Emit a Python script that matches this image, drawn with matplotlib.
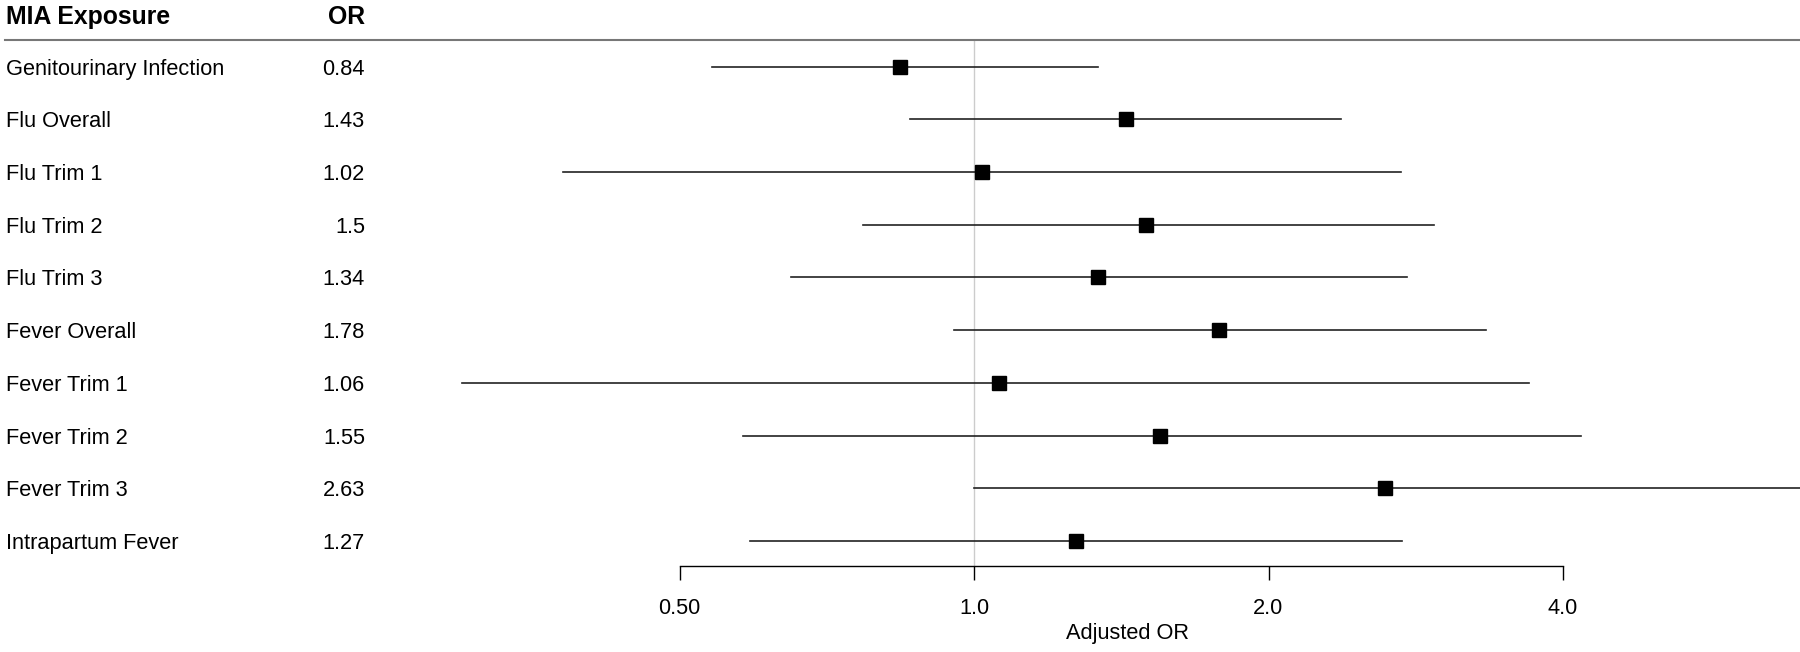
import matplotlib

matplotlib.use("Agg")
import matplotlib.pyplot as plt
from matplotlib.transforms import blended_transform_factory

plt.rcParams["font.family"] = ["Liberation Sans", "DejaVu Sans"]

labels = [
    "Genitourinary Infection",
    "Flu Overall",
    "Flu Trim 1",
    "Flu Trim 2",
    "Flu Trim 3",
    "Fever Overall",
    "Fever Trim 1",
    "Fever Trim 2",
    "Fever Trim 3",
    "Intrapartum Fever",
]
or_text = ["0.84", "1.43", "1.02", "1.5", "1.34", "1.78", "1.06", "1.55", "2.63", "1.27"]
odds_ratio = [0.84, 1.43, 1.02, 1.50, 1.34, 1.78, 1.06, 1.55, 2.63, 1.27]
ci_low = [0.54, 0.86, 0.38, 0.77, 0.65, 0.955, 0.30, 0.58, 1.00, 0.59]
ci_high = [1.34, 2.37, 2.73, 2.95, 2.77, 3.34, 3.69, 4.17, 7.5, 2.74]
ticks = [0.5, 1.0, 2.0, 4.0]
tick_labels = ["0.50", "1.0", "2.0", "4.0"]

W, H = 1800, 652
FS = 15.7
fig = plt.figure(figsize=(W / 100, H / 100), dpi=100)
fig.patch.set_facecolor("white")

# axes: from header rule (y=40px) down to axis line (y=566px)
ax_left = 400 / W
ax = fig.add_axes([ax_left, 1 - 566 / H, 1 - ax_left, (566 - 40) / H])
ax.set_xscale("log", base=2)
x_left = 2 ** ((400 - 974) / 294.5)
x_right = 2 ** ((1800 - 974) / 294.5)
ax.set_xlim(x_left, x_right)
n = len(labels)
row_h = 52.7
ax.set_ylim(9 + (566 - 541) / row_h, -(66.6 - 40) / row_h)

ax.axvline(1.0, color="#cccccc", lw=1.0, zorder=1)

for i in range(n):
    ax.plot([ci_low[i], ci_high[i]], [i, i], color="#222222", lw=1.2, zorder=2)
ax.plot(odds_ratio, range(n), "s", color="black", markersize=10.5, zorder=3)

for side in ["top", "left", "right"]:
    ax.spines[side].set_visible(False)
ax.spines["bottom"].set_bounds(0.5, 4.0)
ax.spines["bottom"].set_linewidth(1.0)
ax.set_xticks(ticks)
ax.set_xticklabels(tick_labels)
ax.xaxis.set_minor_locator(matplotlib.ticker.NullLocator())
ax.tick_params(axis="x", length=10, width=1.0, labelsize=FS, pad=13)
ax.set_yticks([])
ax.set_xlabel("Adjusted OR", fontsize=FS)
ax.xaxis.set_label_coords((1128 - 400) / 1400, -(634 - 566) / 526)
ax.xaxis.label.set_va("center")

# text columns in figure x, data y
tr = blended_transform_factory(fig.transFigure, ax.transData)
dy = 2.5 / row_h
for i in range(n):
    ax.text(6 / W, i + dy, labels[i], transform=tr, ha="left", va="center",
            fontsize=FS, clip_on=False)
    ax.text(365 / W, i + dy, or_text[i], transform=tr, ha="right", va="center",
            fontsize=FS, clip_on=False)

head_y = -(66.6 - 17) / row_h
ax.text(6 / W, head_y, "MIA Exposure", transform=tr, ha="left", va="center",
        fontsize=17.8, fontweight="bold", clip_on=False)
ax.text(365 / W, head_y, "OR", transform=tr, ha="right", va="center",
        fontsize=17.8, fontweight="bold", clip_on=False)

tr2 = blended_transform_factory(fig.transFigure, ax.transAxes)
ax.plot([5 / W, 1.0], [1.0, 1.0], transform=tr2, color="#777777", lw=1.5, clip_on=False)

fig.savefig("out.png", dpi=100, facecolor="white")
